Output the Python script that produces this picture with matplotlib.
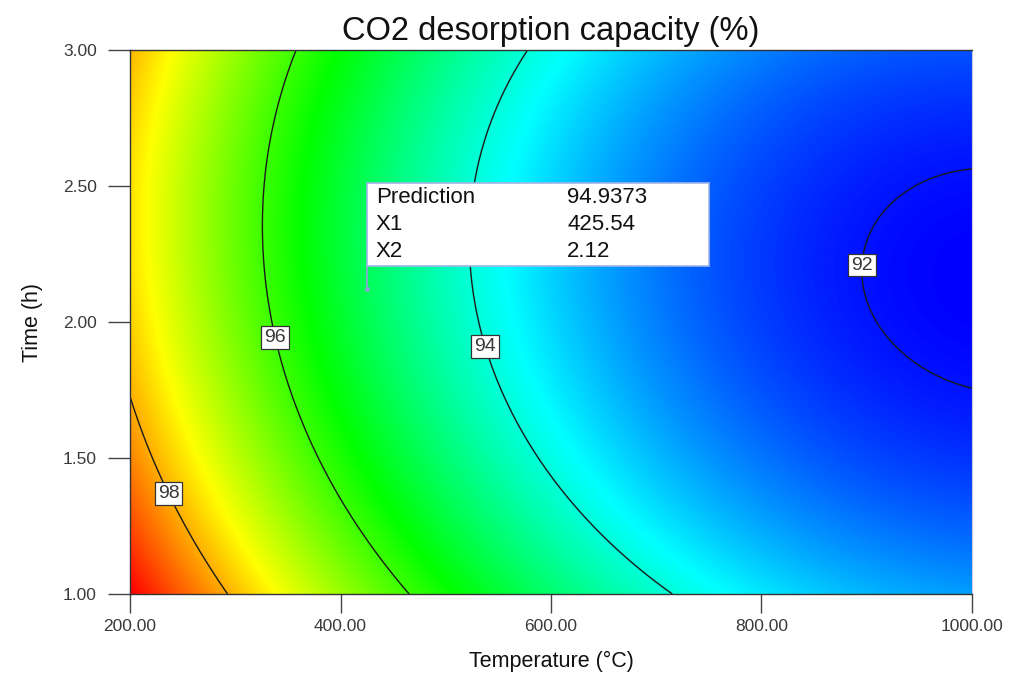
import numpy as np
import matplotlib
matplotlib.use("Agg")
import matplotlib.pyplot as plt
from matplotlib.colors import LinearSegmentedColormap
from matplotlib.patches import Rectangle

plt.rcParams['font.family'] = ['Liberation Sans', 'DejaVu Sans']

# Quadratic response model in coded factors A=(T-600)/400, B=(t-2)/1
# terms: intercept, A, B, AB, A^2, B^2
model_terms = ['1', 'A', 'B', 'AB', 'A2', 'B2']
model_coef = [93.456, -2.935, -0.473, 0.198, 1.361, 0.861]

temp_range = [200.0, 1000.0]
time_range = [1.0, 3.0]
contour_levels = [92, 94, 96, 98]
# where each contour gets its value tag
label_spots = [(892.6, 2.21), (541.1, 1.915), (339.7, 1.945), (239.6, 1.375)]

x_ticks = [200, 400, 600, 800, 1000]
y_ticks = [1.00, 1.50, 2.00, 2.50, 3.00]

pred_names = ['Prediction', 'X1', 'X2']
pred_values = ['94.9373', '425.54', '2.12']
pred_x1 = 425.54
pred_x2 = 2.12


def response(T, t):
    a = (T - 600.0) / 400.0
    b = (t - 2.0) / 1.0
    b0, b1, b2, b12, b11, b22 = model_coef
    return b0 + b1 * a + b2 * b + b12 * a * b + b11 * a**2 + b22 * b**2


T = np.linspace(temp_range[0], temp_range[1], 500)
t = np.linspace(time_range[0], time_range[1], 400)
TT, tt = np.meshgrid(T, t)
Z = response(TT, tt)

cmap = LinearSegmentedColormap.from_list(
    'de', ['#0000ff', '#00ffff', '#00ff00', '#ffff00', '#ff0000'])

fig = plt.figure(figsize=(10.11, 6.82), dpi=100)
ax = fig.add_axes([0.1286, 0.129, 0.8328, 0.7977])

ax.imshow(Z, origin='lower', aspect='auto', cmap=cmap,
          extent=[temp_range[0], temp_range[1], time_range[0], time_range[1]],
          vmin=Z.min(), vmax=Z.max(), interpolation='bilinear')

cs = ax.contour(TT, tt, Z, levels=contour_levels, colors='#1a1a1a', linewidths=1.0)
labels = ax.clabel(cs, fmt='%d', inline=False, fontsize=14, manual=label_spots,
                   colors='#383838')
for txt in labels:
    txt.set_rotation(0)
    txt.set_bbox(dict(boxstyle='square,pad=0.15', fc='white', ec='#333333', lw=0.9))

# prediction flag
box_left = pred_x1
box_bottom = pred_x2 + 0.086
box_w = 325.0
box_h = 0.305
ax.plot([pred_x1, pred_x1], [pred_x2, box_bottom], color='#8fa3d8', lw=1.2)
ax.plot([pred_x1], [pred_x2], marker='o', ms=2.5, color='#8fa3d8')
ax.add_patch(Rectangle((box_left, box_bottom), box_w, box_h, fc='white',
                       ec='#9fb4e6', lw=1.2, zorder=5))
row_y = [box_bottom + box_h - 0.055, box_bottom + box_h - 0.151, box_bottom + box_h - 0.25]
for name, val, y in zip(pred_names, pred_values, row_y):
    ax.text(box_left + 8, y, name, fontsize=16, color='#111111', va='center', zorder=6)
    ax.text(box_left + 190, y, val, fontsize=16, color='#111111', va='center', zorder=6)

ax.set_xlim(temp_range)
ax.set_ylim(time_range)
ax.set_xticks(x_ticks)
ax.set_xticklabels(['%.2f' % v for v in x_ticks])
ax.set_yticks(y_ticks)
ax.set_yticklabels(['%.2f' % v for v in y_ticks])
ax.tick_params(axis='x', direction='out', length=14, width=1, color='#444444',
               labelsize=12.5, labelcolor='#3a3a3a', pad=4)
ax.tick_params(axis='y', direction='out', length=16, width=1, color='#444444',
               labelsize=12.5, labelcolor='#3a3a3a', pad=8)
for side in ['left', 'bottom', 'top']:
    ax.spines[side].set_color('#333333')
    ax.spines[side].set_linewidth(1.0)
ax.spines['right'].set_color('#c8c8e0')

ax.set_title('CO2 desorption capacity (%)', fontsize=23.5, pad=7, color='#111111')
ax.set_xlabel('Temperature (\u00b0C)', fontsize=15.5, labelpad=12, color='#111111')
ax.set_ylabel('Time (h)', fontsize=15.5, labelpad=14, color='#111111')

fig.savefig('out.png', dpi=100)
